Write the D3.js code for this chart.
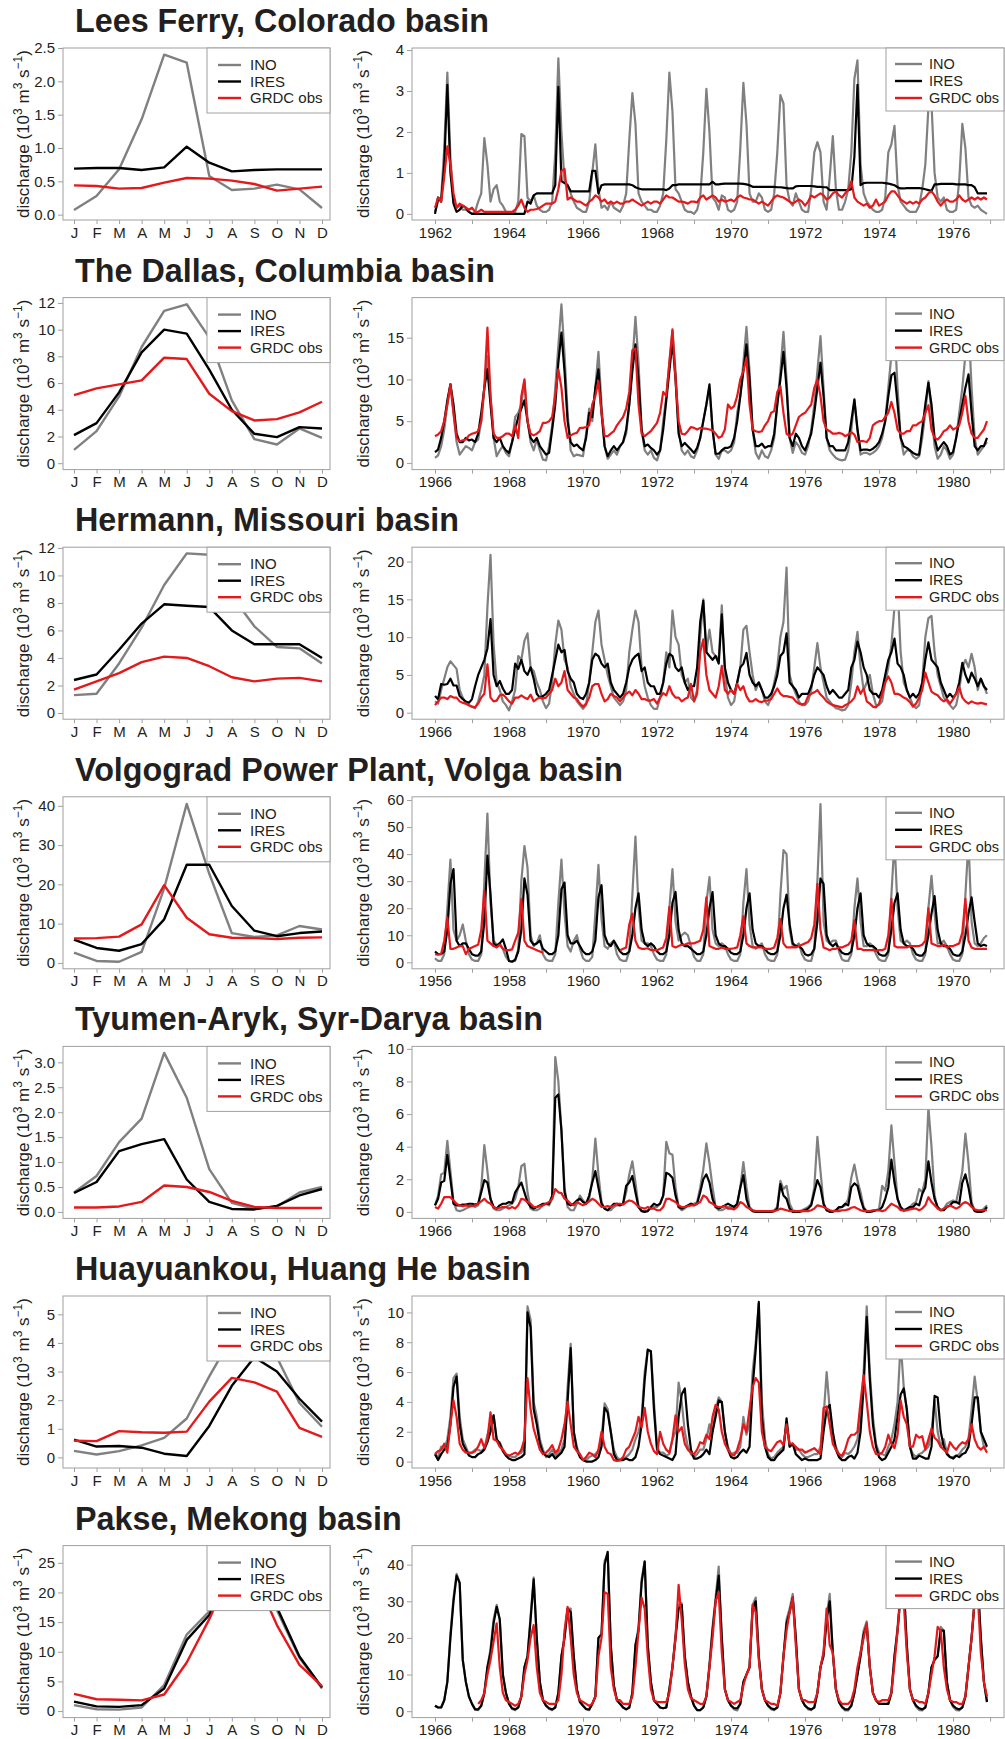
<!DOCTYPE html>
<html>
<head>
<meta charset="utf-8">
<script src="https://cdn.jsdelivr.net/npm/d3@7"></script>
<style>
  body { margin: 0; background: #fff; }
  text { font-family: "Liberation Sans", Arial, Helvetica, sans-serif; }
</style>
</head>
<body>
<svg id="fig" width="1005" height="1739"></svg>
<script>
// ---- data (10^3 m3/s) ----
const months = ["J","F","M","A","M","J","J","A","S","O","N","D"];
const seriesNames = ["INO", "IRES", "GRDC obs"];

// Lees Ferry, Colorado (1962-1976)
const leesClimINO  = [0.07,0.28,0.68,1.43,2.4,2.28,0.58,0.37,0.39,0.45,0.38,0.1];
const leesClimIRES = [0.69,0.7,0.7,0.67,0.71,1.02,0.78,0.65,0.67,0.68,0.68,0.68];
const leesClimGRDC = [0.44,0.43,0.39,0.4,0.48,0.55,0.54,0.51,0.46,0.36,0.39,0.42];
const leesINO = [
  0.05,0.3,0.4,1.6,3.45,1.4,0.3,0.15,0.2,0.1,0.1,0.05,
  0,0.05,0.3,0.5,1.85,1.2,0.3,0.6,0.7,0.3,0.2,0.05,
  0,0,0.05,0.3,1.95,1.9,0.4,0.3,0.45,0.2,0.1,0.05,
  0.05,0.1,0.3,1.5,3.8,2.0,0.8,0.7,0.5,0.3,0.15,0.1,
  0.05,0.05,0.3,1.0,1.7,0.6,0.15,0.2,0.1,0.3,0.15,0.1,
  0.05,0.2,0.5,1.8,2.95,2.2,0.5,0.3,0.2,0.1,0.1,0.05,
  0.05,0.2,0.5,1.8,3.45,2.5,0.6,0.5,0.3,0.1,0.05,0.05,
  0,0.1,0.4,1.5,3.05,2.0,0.4,0.3,0.1,0.45,0.4,0.1,
  0.05,0.1,0.3,1.6,3.2,2.2,0.5,0.3,0.3,0.5,0.4,0.1,
  0.05,0.1,0.5,1.5,2.9,2.7,0.7,0.3,0.2,0.5,0.3,0.1,
  0.05,0.05,0.6,1.5,1.75,1.5,0.3,0.1,0.9,1.9,0.6,0.1,
  0.1,0.3,0.6,1.5,3.3,3.75,1.2,0.5,0.3,0.2,0.1,0.05,
  0.05,0.1,0.4,1.5,1.7,2.15,0.7,0.3,0.2,0.1,0.05,0.05,
  0.05,0.2,0.6,1.2,2.6,2.7,1.0,0.4,0.3,0.4,0.1,0.05,
  0.05,0.1,0.8,2.2,1.6,0.4,0.2,0.15,0.2,0.1,0.05,0
];
const leesIRES = [
  0,0.4,0.3,1.2,3.15,1.0,0.25,0.05,0.1,0.2,0.15,0.05,
  0,0,0,0,0,0,0,0,0,0,0,0,
  0,0,0,0,0,0,0.3,0.25,0.45,0.5,0.5,0.5,
  0.5,0.5,0.5,0.7,3.1,0.8,0.75,0.7,0.55,0.55,0.55,0.55,
  0.55,0.55,0.55,1.05,1.05,0.5,0.7,0.72,0.72,0.72,0.72,0.72,
  0.72,0.72,0.72,0.72,0.7,0.65,0.62,0.6,0.6,0.6,0.6,0.6,
  0.6,0.6,0.6,0.58,0.62,0.7,0.7,0.72,0.72,0.72,0.72,0.72,
  0.72,0.72,0.72,0.72,0.72,0.72,0.78,0.72,0.72,0.73,0.74,0.74,
  0.74,0.74,0.74,0.74,0.73,0.72,0.7,0.66,0.66,0.66,0.66,0.66,
  0.66,0.66,0.66,0.65,0.65,0.64,0.63,0.62,0.62,0.67,0.68,0.68,
  0.68,0.68,0.68,0.67,0.66,0.66,0.65,0.65,0.58,0.58,0.58,0.58,
  0.58,0.58,0.58,0.6,1.4,3.15,0.7,0.75,0.76,0.76,0.76,0.76,
  0.76,0.76,0.75,0.74,0.72,0.7,0.65,0.62,0.62,0.63,0.63,0.63,
  0.63,0.63,0.62,0.6,0.58,0.56,0.72,0.72,0.73,0.73,0.73,0.73,
  0.73,0.72,0.72,0.72,0.72,0.7,0.7,0.65,0.5,0.5,0.5,0.5
];
const leesGRDC = [
  0.15,0.4,0.3,0.9,1.65,1.2,0.5,0.15,0.25,0.2,0.15,0.1,
  0.15,0.05,0.05,0.1,0.05,0.05,0.05,0.05,0.05,0.05,0.05,0.05,
  0.05,0.05,0.1,0.2,0.35,0.15,0.05,0.1,0.1,0.12,0.15,0.2,
  0.25,0.25,0.25,0.3,0.6,1.05,1.1,0.35,0.4,0.35,0.3,0.3,
  0.25,0.2,0.3,0.35,0.45,0.4,0.3,0.35,0.25,0.3,0.25,0.3,
  0.25,0.25,0.3,0.3,0.35,0.3,0.25,0.2,0.25,0.3,0.25,0.3,
  0.3,0.25,0.35,0.45,0.4,0.4,0.35,0.3,0.3,0.28,0.25,0.3,
  0.3,0.28,0.4,0.45,0.35,0.4,0.45,0.4,0.3,0.35,0.3,0.32,
  0.35,0.3,0.4,0.45,0.4,0.38,0.35,0.35,0.3,0.25,0.3,0.25,
  0.2,0.3,0.4,0.45,0.42,0.4,0.35,0.3,0.25,0.3,0.35,0.3,
  0.2,0.3,0.45,0.4,0.45,0.5,0.45,0.35,0.4,0.5,0.55,0.45,
  0.4,0.5,0.6,0.8,0.4,0.3,0.25,0.2,0.25,0.15,0.2,0.35,
  0.2,0.25,0.3,0.45,0.55,0.55,0.45,0.35,0.3,0.25,0.3,0.25,
  0.3,0.25,0.35,0.4,0.5,0.55,0.45,0.3,0.2,0.3,0.35,0.3,
  0.3,0.35,0.45,0.35,0.3,0.35,0.4,0.35,0.4,0.35,0.4,0.35
];

// The Dallas, Columbia (1966-1980)
const dallesClimINO  = [1.0,2.4,5.0,8.7,11.4,11.9,9.4,4.7,1.8,1.4,2.6,1.9];
const dallesClimIRES = [2.1,3.0,5.3,8.3,10.0,9.7,7.0,4.0,2.2,1.95,2.7,2.6];
const dallesClimGRDC = [5.1,5.6,5.9,6.2,7.9,7.8,5.2,3.9,3.2,3.3,3.8,4.6];
const dallesINO = [
  0.6,0.9,2,4,7,9.4,6,2.5,1,1.5,2,1.8,
  1.5,2.5,2.8,5,9,12.8,8,3,0.8,1.5,2,1.2,
  0.8,2.5,5.5,6,7,9.8,5,2.5,1.5,2.8,1.5,0.4,
  0.3,2,4.5,9,14,19,13,6,1.5,0.8,1,0.9,
  0.8,3.5,6.5,5,9,13.3,7,2,0.5,1,1.5,1,
  2,2.5,3.5,7,12,17.5,12,4,1.5,1,1.5,0.6,
  0.3,1.5,5,8,12,15.8,11,4,1.5,1,1.5,0.8,
  0.6,1.5,3,5,7,9,4,1,0.5,1.5,1.5,1.2,
  1.5,2.5,6,8,12,16.3,11,4,1.2,0.5,1.5,0.8,
  0.6,1.5,3,7,11,15.7,10,3,1.2,2.5,2,1.2,
  1,2,4,7,11,15.2,9,3,1.5,1,0.6,0.4,
  0.3,0.4,1.5,4,7.5,4,1,1.2,1.2,1,1.2,1.5,
  2,3,5,9,13,16.5,9,3,1,1.5,1.5,0.8,
  0.5,0.8,3,6,9.8,6,2,0.5,1,2,1.5,0.5,
  1,3,6,9,13,17,9,3,1,1.5,2,2.5
];
const dallesIRES = [
  1.3,1.6,3,5,7.5,9.4,7,3.5,2.5,2.5,3,2.7,
  2.8,2.5,3.5,6,9,11.2,7,3,2.5,3,2,1.5,
  1.2,2.5,4,5.5,6.5,7.5,5,3,2.5,3,2,1.5,
  1,1.2,4,7,12,15.6,11,5,2.5,2,2.2,1.8,
  1.5,3,6,5.5,9,11.2,6,2,0.8,1.5,2,1.5,
  2,2.5,4,7,11,14.2,10,4,2,2.2,1.8,1.5,
  1,1.5,4,7.5,11,14.6,10,3.5,2,2.4,2,1.6,
  1.2,1.8,3,5,7,9.4,4,1.1,1.1,1.5,1.8,1.8,
  2,3,5,8,11,14.2,10,4,2,2,2.3,1.8,
  2,2,3.5,7,10,13.3,9,3,2,3.5,3,2,
  1.5,2.5,3.5,6,9,12,8,3,2,2,1.5,1.5,
  1.5,1.5,2.5,5,7.6,4,1.5,1.6,1.6,1.5,1.7,2,
  2.5,3.5,5,8,10.5,10.8,7,3,2,1.8,1.5,1.2,
  1,1,4,7,9.6,7,3,1.5,2,2.5,2,1,
  1.3,3,5,7,9,10.6,6,2,1.5,2,2,3
];
const dallesGRDC = [
  3.2,3.4,3.8,5,7,9.4,6,3,2.6,2.7,2.8,3.3,
  3.5,3.6,3.8,5,9,16.2,8,3.5,3,3,3.2,3.5,
  3.5,3.2,4.5,3,8,10,5,3.5,3.3,3.5,3.8,4.8,
  4.8,5,5.5,8,11.2,9,5,3,3.3,3.5,3.6,4.2,
  4.2,4.3,4.5,7,8,9.8,6,3.2,3.2,3.5,3.8,4.5,
  5,5.5,6.5,8.5,13.5,13.7,7,3.5,3.2,3.5,3.8,4.3,
  4.8,6,8.5,8,12,16,10,5,3.5,3.4,3.8,4.3,
  4.2,4.0,4.2,4.1,4.1,4.0,3.9,3.5,3.0,3.2,4,7,
  6.5,6.8,8,10,11,12.6,7,4,3.8,3.7,3.8,4.5,
  5,6,6.2,8.5,9.2,6,3.5,3.2,3.5,4.5,5.5,5.8,
  6,6.5,7,9,10,8,5,4,3.8,3.5,3.5,3.6,
  3.5,3.2,3.4,3.7,3.4,2.5,2.6,2.6,2.5,3,4.5,4.8,
  5,5,5.5,6,7.3,6,4,3.5,3.5,3.8,3.8,4.5,
  4.5,4.8,5,6,6.9,4,3,2.8,3.2,3.8,4,4.5,
  4,4.2,4.5,6,8,5,3.5,3,3,3.5,4,5
];

// Hermann, Missouri (1966-1980)
const hermannClimINO  = [1.3,1.4,3.6,6.2,9.3,11.6,11.5,8.5,6.3,4.8,4.7,3.6];
const hermannClimIRES = [2.4,2.8,4.6,6.5,7.9,7.8,7.7,6.0,5.0,5.0,5.0,4.0];
const hermannClimGRDC = [1.7,2.3,2.9,3.7,4.1,4.0,3.4,2.6,2.3,2.5,2.55,2.3];
const hermannINO = [
  1.5,1.2,3,4.5,6,6.8,6.3,5.8,3,2,1.2,1,
  0.8,0.6,1.5,3,5,14,20.9,9,4,3,1.5,1,
  0.3,1.5,3,7.5,7,9.5,10.5,6,5.5,4,3,1.5,
  0.6,1.2,4,9,12.2,11,7,6,3.5,2.5,1.5,1,
  0.5,1,4,8,12,13.5,9,7,5,3.5,2,1.5,
  1,1.5,3,8,11,13.5,12,6,3.5,2,1,0.5,
  0.5,2,4,8,6,13.5,10,9,5,4,4.5,2,
  1.5,3,10,15,8,11,8,7.5,7,14.2,5,2,
  1,1.5,4,6,11,11.5,8,5,3,4,3,1.5,
  1,2,4,6,10,12,19.2,5,3.5,2.5,1.5,1,
  1,1.5,3,6,9.2,6,4,2,1.5,1,0.6,0.5,
  0.3,0.4,1,4,8,10.7,6,3,4,5,2.5,1,
  1,1.5,4,6,9,14,17,8,4,3,2,1,
  0.6,1,4,10,12.5,12.8,8,5,3.5,2,1.5,1,
  0.5,1,3,6,7,6,7.8,6,3,4.5,3.5,2.5
];
const hermannIRES = [
  2.2,1.8,3.8,3.7,3.8,4.5,3.6,3.6,2.2,1.8,1.5,1.3,
  1.8,3.5,5,6,7,8.5,12.4,5,3.5,4.2,3.2,2.5,
  2.5,3,6.5,5.8,7,5.5,5,6,4.5,2.5,2,2.2,
  2.5,3,5,7,9,8,8.3,5.5,4.5,4,2.5,2,
  1.8,2.5,4,7,7.8,7.5,6.5,6,6.5,4,3,2.5,
  2,2.5,4,6,7,7.5,7.8,5.5,6,4,3.5,3.5,
  2.5,2.5,4,6.5,7.8,7.5,6,5.5,6,4,3,3.5,
  3.5,6,12,14.8,8,7.5,7,7.5,6.5,13,6,4,
  3,2.5,4,6,6.5,7.9,5,4,3.5,4,3,2,
  2,2.5,3.5,5,7.5,8,10.5,4,3.5,3,2,2.5,
  2.5,2.5,3.5,5,6,5.5,5,3.5,2.5,3,2.5,2,
  2,2.5,3,6,7,9.4,8,6,5,3,2.5,2.5,
  2,3,5,7,8,9.8,6.5,6,5,3,2,2.5,
  2,2.5,4,7,9.3,7,6.5,6,4,3,2,2.5,
  2,2.5,4,6.6,5,4,5.3,4.5,3.5,4.5,3.5,3
];
const hermannGRDC = [
  1,1.5,2,2,1.8,2.2,2,2,1.5,1.3,1.2,1,
  0.8,0.7,1.2,2,2.5,6.4,2,1.5,1.6,2.3,2.4,2,
  1.5,1.2,2,2,2.3,2,1.8,2.4,1.5,1.8,2.0,1.9,
  2,2.5,3,4.5,3.5,4,5.5,3,2.5,2,1.8,1.2,
  0.8,1.2,2,3.5,3.8,3.8,2.5,1.5,1.8,2.5,2.2,2,
  1.5,2,2.5,2.8,2.3,3,2.5,1.8,1.8,1.6,1.6,1.8,
  1.2,2.0,2.6,2.3,3.5,2.5,2,2,1.5,1.8,2,3.8,
  1.5,2.5,8,9.7,5,3,2.5,2,3.5,6.2,3,2.5,
  3,2.5,3.8,3,3.5,2.2,1.5,1.5,1.8,1.5,1.4,1.6,
  1.6,1.8,2.5,3.2,2.5,2.2,2.2,2.1,2,1.5,1.2,1.1,
  1.2,2.2,2.5,2.7,3,2.4,2,1.5,1.2,1,0.9,0.8,
  0.7,1,1.2,1.5,2,3.5,2.5,3.2,1.5,1.2,0.8,0.7,
  1.2,2.5,4,4.8,4,2.5,2.5,2.3,2,1.8,1.4,0.8,
  1.2,2,3,5.3,4,2.8,2.5,2.3,1.8,1.5,1.8,1.2,
  1.8,2.5,3.4,2,1.5,1.2,1.5,1.3,1.2,1.3,1.2,1.1
];

// Volgograd Power Plant, Volga (1956-1970); GRDC has a gap in 1959-1960
const volgaClimINO  = [2.6,0.5,0.3,2.8,19,40.5,22.7,7.6,6.6,7.0,9.4,8.5];
const volgaClimIRES = [5.9,3.8,3.1,4.8,11.1,25,25,14.5,8.2,6.8,7.6,8.0];
const volgaClimGRDC = [6.2,6.3,6.7,9.8,19.8,11.5,7.3,6.4,6.3,6.1,6.4,6.5];
const volgaINO = [
  1.5,0.5,0.5,3,20,38,12,8,10,14,8,3,
  1,0.5,0.5,3,30,55,22,8,6.5,7,5,2,
  0.5,0.3,0.5,5,30,43,35,10,6,7,10,3,
  1,0.5,0.5,3,22,38,18,6,4,8,10,5,
  1.5,0.5,0.5,2,18,36,16,6,5,7,8,3,
  1,0.5,0.5,4,25,46.5,20,8,7,7,6,3,
  1,0.5,0.5,3,20,34.5,15,8,10,11,10,6,
  2,0.5,0.5,3,22,31.5,12,7,6,7,6,3,
  1,0.5,0.5,3,22,34.5,14,6,5,6,7,3,
  1,0.5,0.5,3,25,41.5,40,12,6,6,7,3,
  1,0.5,0.5,5,30,58.5,15,8,7,8,8,4,
  1,0.5,0.5,3,20,31,15,6,6,7,6,3,
  1,0.5,0.5,3,25,45,20,8,7,8,7,3,
  1,0.5,0.5,3,20,32,18,7,7,8,6,3,
  1,0.5,0.5,3,25,45,15,7,6,7,9,10
];
const volgaIRES = [
  4,3,3,4,12,29,34.5,8,6,7,7,5,
  3,2.5,2.5,4,15,39.5,25,7,6,7,8.5,5,
  0.5,0.2,1,4,12,31,25,8,6.5,7,8,5,
  4,3,3,4,10,27,29.5,10,7,7,8,6,
  4,3,3,4,8,24,28.5,10,7,6,8,6,
  4,3,3,4,10,20,25.5,12,7,6,7,6,
  4,3,3,4,10,22,26,12,7,6,6,5,
  4,3,3,4,10,20,26,10,7,6,6,5,
  3.5,3,3,4,10,20,25.5,12,7,6,6,5,
  3.5,3,3,4,10,20,25,14,7,6,6,5,
  3,2.5,3,5,15,31,29,10,7,6,7,5,
  3.5,3,3,4,10,20,25.5,10,7,6,6,5,
  3,2.5,2.5,4,12,22,25.5,12,7,6,6,5,
  3,2.5,2.5,4,10,18,24.5,12,7,6,6,5,
  3,2.5,2.5,4,10,18,24,15,7,6,6.5,6
];
const volgaGRDC = [
  3,2.8,3.2,8,16.5,5,5,5.5,6,6,3,5,
  5.5,6,6.5,12,26.5,8,7,6,5.5,6.5,5,4.5,
  4.5,4.8,8,11,23.5,8,6,5.5,5,4.5,4,3.5,
  null,null,null,null,null,null,null,null,null,null,null,null,
  null,null,null,null,null,null,null,null,null,null,null,null,
  4.5,5,5.5,14,18,8,5.5,5,5,5.2,4.5,4.5,
  4.5,5,5.5,9,20.5,6,5.5,6,6.5,6.5,7,7,
  7,7.5,8,12,24,6,5.5,5,5,5.5,5,5,
  5,5.2,5.5,10,17,7,6,5.5,5.5,5.5,5.5,5,
  5,5,5.5,9,16,7,5.5,5.5,5.5,5.5,6,6.5,
  7,7.5,9,14,29,12,5.5,5,4.5,5,5,5.5,
  5.5,6,6.5,8,15.5,5,5,4.5,4.5,4.5,4.5,4.2,
  4.5,4.5,5,10,23.5,6,5.5,5.5,5.5,5.5,6,6,
  6,6,6.5,8,20,7,6.5,6,6,6.5,5.5,6,
  6,6.5,7,11,23.5,8,5.5,5,5,5,5,5
];

// Tyumen-Aryk, Syr-Darya (1966-1980)
const tyumenClimINO  = [0.39,0.72,1.4,1.87,3.19,2.29,0.86,0.18,0.06,0.11,0.39,0.5];
const tyumenClimIRES = [0.38,0.6,1.22,1.36,1.46,0.65,0.2,0.06,0.05,0.12,0.33,0.46];
const tyumenClimGRDC = [0.09,0.09,0.11,0.2,0.53,0.5,0.4,0.22,0.1,0.08,0.08,0.08];
const tyumenINO = [
  0.4,1,2.3,2.4,4.35,2.5,0.6,0.1,0.05,0.1,0.2,0.3,
  0.4,0.3,0.4,1.5,4.1,2.5,0.8,0.2,0.1,0.1,0.2,0.3,
  0.4,0.5,0.8,1.5,2.8,2.95,1.2,0.2,0.1,0.1,0.2,0.4,
  0.5,0.4,0.8,9.5,8,5,1.5,0.3,0.1,0.1,0.5,1.0,
  0.7,0.5,0.8,2,4.5,2.3,0.6,0.2,0.1,0.1,0.3,0.4,
  0.4,0.5,1.2,2.3,3.1,1.8,0.3,0.05,0.05,0.1,0.2,0.3,
  0.3,0.5,1,4.3,3.6,3.5,1.5,0.3,0.1,0.2,0.4,0.5,
  0.5,0.6,1.5,2.6,4.2,3,1.5,0.3,0.1,0.1,0.2,0.3,
  0.3,0.3,0.5,1.5,3.05,1.5,0.3,0.1,0.05,0.05,0.05,0.05,
  0.05,0.05,0.1,0.3,1.9,1.4,1.6,0.5,0.1,0.05,0.05,0.1,
  0.2,0.3,0.5,1.5,4.6,2.5,0.5,0.1,0.05,0.05,0.1,0.2,
  0.3,0.4,0.8,2.1,2.9,1.9,1.2,0.3,0.05,0.05,0.05,0.1,
  0.2,1.6,1.3,2.5,5.3,3,0.8,0.2,0.05,0.1,0.3,0.5,
  0.6,1.4,1.2,2,6.4,4,1,0.2,0.1,0.2,0.5,0.6,
  0.7,0.6,1.5,2.5,4.8,3,0.6,0.1,0.05,0.05,0.2,0.4
];
const tyumenIRES = [
  0.4,0.8,1.8,1.9,3.5,2,0.5,0.4,0.4,0.45,0.45,0.5,
  0.5,0.45,0.5,1.2,1.95,1.8,0.8,0.3,0.2,0.4,0.5,0.5,
  0.6,0.55,1.2,1.5,1.8,1.2,0.6,0.3,0.2,0.3,0.4,0.5,
  0.5,0.5,1,7,7.2,5,1.2,0.5,0.4,0.5,0.7,0.8,
  0.6,0.5,1,1.8,2.5,1.5,0.5,0.2,0.1,0.3,0.5,0.5,
  0.4,0.5,1.6,1.8,2.2,1.2,0.3,0.05,0,0.05,0.3,0.5,
  0.4,0.5,1,2.4,2.3,2.1,1,0.3,0.2,0.3,0.4,0.5,
  0.4,0.5,1.2,2.0,2.3,1.8,0.8,0.3,0.2,0.3,0.4,0.5,
  0.4,0.3,0.5,1.5,2.25,0.8,0.2,0.05,0,0,0,0,
  0,0,0.05,0.2,1.7,1.0,0.8,0.2,0,0,0,0.05,
  0.1,0.2,0.4,1.2,1.95,1.5,0.5,0.1,0,0,0.1,0.3,
  0.3,0.5,0.4,1.5,1.75,1.6,0.8,0.2,0,0,0.05,0.1,
  0.1,0.3,0.8,1.5,3.2,1.8,0.8,0.3,0.1,0.2,0.3,0.3,
  0.5,0.4,1.1,1.5,3.1,1.8,0.8,0.3,0.1,0.1,0.3,0.4,
  0.6,0.6,0.5,1.8,2.3,1.5,0.4,0.05,0,0,0.05,0.3
];
const tyumenGRDC = [
  0.3,0.2,0.5,0.9,0.9,0.9,0.7,0.5,0.4,0.35,0.4,0.35,
  0.35,0.4,0.5,0.65,0.8,0.6,0.5,0.3,0.2,0.25,0.3,0.3,
  0.2,0.3,0.2,0.4,0.8,0.75,0.6,0.5,0.3,0.3,0.35,0.4,
  0.5,0.6,0.8,1.4,1.2,1.15,0.8,0.7,0.5,0.4,0.6,0.5,
  0.4,0.5,0.65,0.8,0.7,0.5,0.3,0.3,0.35,0.3,0.4,0.5,
  0.5,0.45,0.6,0.7,0.65,0.5,0.3,0.25,0.2,0.3,0.2,0.2,
  0.1,0.1,0.3,0.8,0.8,0.7,0.6,0.4,0.3,0.3,0.35,0.4,
  0.4,0.5,0.6,1.0,0.9,0.6,0.5,0.35,0.3,0.3,0.35,0.2,
  0.2,0.15,0.3,0.6,0.5,0.3,0.2,0.1,0.05,0.05,0.05,0.05,
  0.05,0.05,0.05,0.1,0.2,0.15,0.1,0.05,0.05,0.05,0.05,0.05,
  0.05,0.05,0.1,0.2,0.4,0.35,0.3,0.2,0.1,0.05,0.05,0.05,
  0.1,0.1,0.15,0.25,0.3,0.2,0.1,0.05,0.05,0.05,0.1,0.1,
  0.1,0.05,0.1,0.3,0.5,0.4,0.3,0.1,0.1,0.1,0.15,0.2,
  0.2,0.1,0.2,0.4,0.9,0.6,0.4,0.2,0.1,0.2,0.3,0.4,
  0.3,0.2,0.3,0.5,0.6,0.5,0.3,0.15,0.1,0.1,0.1,0.1
];

// Huayuankou, Huang He (1956-1970)
const huangClimINO  = [0.23,0.1,0.22,0.42,0.68,1.36,2.83,4.2,4.4,3.5,1.9,1.07];
const huangClimIRES = [0.62,0.38,0.4,0.34,0.13,0.05,1.1,2.5,3.5,3.0,2.05,1.25];
const huangClimGRDC = [0.58,0.57,0.92,0.88,0.86,0.9,1.95,2.78,2.62,2.3,1.03,0.72];
const huangINO = [
  0.5,0.3,1.0,0.8,1.5,3,5.6,5.9,3,1.5,1,0.5,
  0.6,0.8,0.8,0.7,0.9,1.8,2.5,3.1,1.4,1.3,0.8,0.5,
  0.4,0.3,0.3,0.5,0.6,1,10.4,9.5,4,3,1.5,0.8,
  0.3,0.5,0.8,0.4,0.6,0.8,1.5,5,7.9,2,1,0.4,
  0.1,0.1,0.3,0.4,0.5,0.7,1.5,3.9,3.5,2,0.8,0.3,
  0.1,0.2,0.3,0.5,0.8,1.5,2,3,6,7.5,7.4,4,
  1,0.6,0.6,0.4,0.5,1.5,2,5.3,4,2,1,0.5,
  0.3,0.5,0.8,0.8,1.5,2.5,2,3.5,4.3,4,2,1,
  0.5,0.6,0.6,1,3,1.8,2.5,6,8,10.6,4,1.5,
  0.5,0.2,0.3,0.6,0.8,1,2.5,1,1.2,0.8,0.8,0.5,
  0.3,0.3,0.4,0.5,0.5,1,3,6,3.5,1.8,1,0.5,
  0.3,0.6,0.5,0.7,1,1.5,3,6,10.4,6,3,1.2,
  0.6,0.5,0.4,1,1.5,2.5,4,8,5,3.5,1,0.5,
  0.3,0.5,0.6,0.8,1,2,4.1,2,1,1.5,0.6,0.3,
  0.3,0.4,0.5,0.8,1,1.5,3.5,5.7,4,2,1,1
];
const huangIRES = [
  0.5,0.1,0.5,0.8,1.0,2.5,5.0,5.7,2.5,1.2,0.8,0.4,
  0.3,0.3,0.5,0.6,0.8,1.3,2,3.1,1.5,1.2,0.7,0.4,
  0.2,0.1,0.1,0.2,0.3,0.5,10,9,3.5,2.5,1.2,0.6,
  0.4,0.3,0.5,0.2,0.4,0.6,1,4,7.6,2,0.8,0.3,
  0.1,0,0,0,0.1,0.3,1,3.6,3.3,2,0.5,0.1,
  0.1,0.1,0.2,0.1,0.1,0.3,1,2.5,5.5,7.5,7.4,3.5,
  0.8,0.5,0.4,0.3,0.2,0.1,0.5,3,4.5,4.9,2.5,0.8,
  0.2,0.2,0.3,0.5,0.8,0.5,2,3,4.1,4,2,0.8,
  0.3,0.2,0.3,0.6,0.8,0.6,1,5,7.5,10.7,3,1,
  0.3,0.1,0.1,0.4,0.6,0.8,2.9,1,1.2,0.5,0.3,0.1,
  0.2,0.1,0.1,0.1,0.1,0.2,2,3.5,3.8,2,0.8,0.3,
  0.1,0.1,0.3,0.4,0.2,0.6,2,5,9.7,5.5,2.5,1,
  0.3,0.1,0.2,0.6,1,1.5,3,4.5,4.9,3.5,1,0.2,
  0.2,0.4,0.3,0.2,0.2,1,4.4,4.3,2,1,0.5,0.3,
  0.2,0.4,0.3,0.5,0.6,1,2.5,4.3,4.3,2,1.5,1
];
const huangGRDC = [
  0.5,0.7,0.8,1.2,0.6,2.5,4.1,3,1.2,0.8,0.6,0.6,
  0.6,0.7,1,1.5,0.9,1.5,3.3,1.5,1.4,1,0.8,0.5,
  0.4,0.5,0.6,0.5,0.8,1.5,5.6,3.5,2.2,1.5,0.8,0.5,
  0.6,0.8,1.1,0.6,0.8,1.5,2.5,4,2.5,1,0.7,0.5,
  0.1,0.3,0.6,0.5,0.3,0.8,2,1,0.6,0.5,0.1,0.05,
  0.1,0.3,0.8,1,1.5,2,3,2.3,3.6,2,1.2,0.7,
  0.5,2,1.2,0.8,0.6,1.5,3.1,2.0,2.3,1.2,0.8,0.6,
  0.5,0.8,1.3,1.2,1.8,1.5,3,3.8,3.5,2,1.2,0.8,
  0.5,0.4,0.8,1.5,2.5,2,3.5,5,5.6,5.3,2,1,
  0.8,0.7,1,1.3,1.4,1.1,2.5,1.2,1.2,1.0,0.8,0.8,
  0.6,0.7,0.8,0.9,0.7,0.5,3.6,3.7,2.5,1.2,0.8,0.5,
  0.4,0.8,1.5,1.8,1.8,2,4,5.8,4,2,1,0.5,
  0.5,0.6,1,1.8,1.2,0.9,1.8,4.1,3,2.5,1,1,
  1.8,1.6,1.7,0.8,1.5,2.2,1.6,1.4,1.0,0.8,0.6,1.3,
  1.0,0.8,1.1,1.3,1.2,1.5,2.5,1.5,1.0,0.8,1,0.6
];

// Pakse, Mekong (1966-1980); GRDC starts in March 1967
const pakseClimINO  = [1.0,0.3,0.25,0.6,4.4,12.9,16.8,26,25.5,17,9,3.8];
const pakseClimIRES = [1.6,0.8,0.7,1.0,3.8,12.0,16.2,24,25,17.5,9.2,4.0];
const pakseClimGRDC = [2.9,2.0,1.9,1.8,2.8,8.2,15.5,24,23,14.5,7.8,4.2];
const pakseINO = [
  1.5,1,1,3,8,21,31,37.5,35,14,8,4,
  2,0.5,0.3,1.5,5,12,17,25,29,25,10,5,
  2,0.6,0.3,1,4,12,15,26,36.5,20,8,3,
  1.5,0.6,0.3,1,5,15,20,28,28,15,6,2.5,
  1.5,0.5,0.3,2,4,20,21,41,43,18,7,3,
  2,1,0.5,1,5,18,23,36,41,18,8,3,
  2,1,0.8,1,6,12,21,29,29.5,15,8,4,
  1.5,0.3,0.3,1,4,13,23,31,39.5,20,6,3,
  1.5,0.5,0.2,2,8,10,12,29,31,15,6,3,
  1.5,0.5,0.3,1,5,15,25,28,32,20,6,3,
  1.5,0.5,0.3,1,5,12,16,26,32,16,6,2.5,
  1,0.2,0.2,1.5,5,10,16,22,24.5,12,5,3,
  2,2,2,2,5,15,23,33,35,18,6,3,
  1.2,0.3,0.2,1,5,12,14,15,23,22,8,3,
  1.2,0.3,0.2,1,4,12,20,31,36,20,8,2.5
];
const pakseIRES = [
  1.5,1,1,3,8,20,30,37,35,14,8,4,
  2,0.5,0.5,1.5,5,12,16,24,28.5,25,10,5,
  2,0.8,0.5,1,4,12,15,25,36,20,8,3,
  1.5,0.8,0.5,1,5,15,20,28,27,15,6,2.5,
  1.5,0.6,0.5,2,4,20,21,40,43.5,18,7,3,
  2,1,0.5,1,5,18,22,35,40.8,18,8,3,
  2,1,0.8,1,6,12,20,28,29,15,8,4,
  1.5,0.3,0.3,1,4,12,22,30,37,20,6,3,
  1.5,0.8,0.8,2,8,10,12,28,30,15,6,3,
  1.5,0.8,0.5,1,5,15,24,27,31,20,6,3,
  1.5,0.8,0.5,1,5,12,15,25,30,16,6,2.5,
  1.2,0.5,0.5,1.5,5,10,15,21,23.5,12,5,3,
  2,2,2,2,5,15,22,32,34,18,6,3,
  1.5,0.8,0.5,1,5,12,14,15,22,22,8,3,
  1.5,0.8,0.5,1,4,12,20,30,35,20,8,2.5
];
const pakseGRDC = [
  null,null,null,null,null,null,null,null,null,null,null,null,
  null,null,2,3,5,10,14,19,24,12,5,3,
  2.5,2,1.5,2,4,10,14,20,23.5,12,5,3,
  2.5,2,2,2,3,10,22,28.5,20,10,5,3,
  2.5,2,1.5,2,4,15,20,32.5,32,12,6,3,
  3,2,2,2,4,12,22,31,28,15,6,3,
  2.5,2.5,2.5,2.5,5,12,20,34.5,25,13,6,3.5,
  3,2.5,2,2,4,12,20,30,32.5,16,6,3,
  2.5,2,2.5,3,7,10,12,29,27,14,6,3,
  2.5,2,2,1.5,5,15,22,27,31,18,6,3,
  3,2.5,2.5,2.5,5,12,16,28,18,16,6,3,
  2,2,2,3,6,12,16,20,24,12,5,3,
  2.5,3,3,3,5,13,22,32,30,16,6,3,
  3,2.5,2.5,2,5,10,15,23,22,12,6,3,
  2.5,2.5,2,2,4,12,20,30,32,16,8,4
];

// axis tick values per panel
const leesClimTicks = [0, 0.5, 1, 1.5, 2, 2.5],   leesTicks = [0, 1, 2, 3, 4];
const dallesClimTicks = [0, 2, 4, 6, 8, 10, 12],  dallesTicks = [0, 5, 10, 15];
const hermannClimTicks = [0, 2, 4, 6, 8, 10, 12], hermannTicks = [0, 5, 10, 15, 20];
const volgaClimTicks = [0, 10, 20, 30, 40],       volgaTicks = [0, 10, 20, 30, 40, 50, 60];
const tyumenClimTicks = [0, 0.5, 1, 1.5, 2, 2.5, 3], tyumenTicks = [0, 2, 4, 6, 8, 10];
const huangClimTicks = [0, 1, 2, 3, 4, 5],        huangTicks = [0, 2, 4, 6, 8, 10];
const pakseClimTicks = [0, 5, 10, 15, 20, 25],    pakseTicks = [0, 10, 20, 30, 40];

const stations = [
  { title: "Lees Ferry, Colorado basin", start: 1962,
    clim: [leesClimINO, leesClimIRES, leesClimGRDC], ts: [leesINO, leesIRES, leesGRDC],
    yl: [-0.08, 2.5], ylTicks: leesClimTicks, ylFmt: d3.format(".1f"),
    yr: [-0.15, 4.05], yrTicks: leesTicks },
  { title: "The Dallas, Columbia basin", start: 1966,
    clim: [dallesClimINO, dallesClimIRES, dallesClimGRDC], ts: [dallesINO, dallesIRES, dallesGRDC],
    yl: [-0.48, 12.4], ylTicks: dallesClimTicks, ylFmt: d3.format("d"),
    yr: [-0.8, 19.8], yrTicks: dallesTicks },
  { title: "Hermann, Missouri basin", start: 1966,
    clim: [hermannClimINO, hermannClimIRES, hermannClimGRDC], ts: [hermannINO, hermannIRES, hermannGRDC],
    yl: [-0.45, 12.05], ylTicks: hermannClimTicks, ylFmt: d3.format("d"),
    yr: [-0.86, 21.9], yrTicks: hermannTicks },
  { title: "Volgograd Power Plant, Volga basin", start: 1956,
    clim: [volgaClimINO, volgaClimIRES, volgaClimGRDC], ts: [volgaINO, volgaIRES, volgaGRDC],
    yl: [-1.5, 42.3], ylTicks: volgaClimTicks, ylFmt: d3.format("d"),
    yr: [-2.4, 61.2], yrTicks: volgaTicks },
  { title: "Tyumen-Aryk, Syr-Darya basin", start: 1966,
    clim: [tyumenClimINO, tyumenClimIRES, tyumenClimGRDC], ts: [tyumenINO, tyumenIRES, tyumenGRDC],
    yl: [-0.13, 3.32], ylTicks: tyumenClimTicks, ylFmt: d3.format(".1f"),
    yr: [-0.4, 10.15], yrTicks: tyumenTicks },
  { title: "Huayuankou, Huang He basin", start: 1956,
    clim: [huangClimINO, huangClimIRES, huangClimGRDC], ts: [huangINO, huangIRES, huangGRDC],
    yl: [-0.37, 5.64], ylTicks: huangClimTicks, ylFmt: d3.format("d"),
    yr: [-0.43, 11.1], yrTicks: huangTicks },
  { title: "Pakse, Mekong basin", start: 1966,
    clim: [pakseClimINO, pakseClimIRES, pakseClimGRDC], ts: [pakseINO, pakseIRES, pakseGRDC],
    yl: [-1.1, 27.9], ylTicks: pakseClimTicks, ylFmt: d3.format("d"),
    yr: [-1.75, 45.2], yrTicks: pakseTicks }
];

// ---- layout ----
const rowH = 249.6;
const fTop = 48, fBot = 220;
const colors = ["#808080", "#000000", "#e3191c"];
const frameColor = "#a0a0a0";
const textColor = "#231f20";

const svg = d3.select("#fig");

function yLabel(g, x) {
  const t = g.append("text")
    .attr("transform", `translate(${x},${(fTop + fBot) / 2}) rotate(-90)`)
    .attr("text-anchor", "middle")
    .attr("font-size", 17)
    .attr("fill", textColor);
  t.append("tspan").text("discharge (10");
  t.append("tspan").attr("dy", -7).attr("font-size", 12).text("3");
  t.append("tspan").attr("dy", 7).text(" m");
  t.append("tspan").attr("dy", -7).attr("font-size", 12).text("3");
  t.append("tspan").attr("dy", 7).text(" s");
  t.append("tspan").attr("dy", -7).attr("font-size", 12).text("\u22121");
  t.append("tspan").attr("dy", 7).text(")");
}

function legend(g, box, lineX0, lineX1, textX, rowsY, fs) {
  g.append("rect")
    .attr("x", box[0]).attr("y", fTop)
    .attr("width", box[1] - box[0]).attr("height", box[2] - fTop)
    .attr("fill", "#fff").attr("stroke", frameColor).attr("stroke-width", 1);
  seriesNames.forEach((name, i) => {
    g.append("line")
      .attr("x1", lineX0).attr("x2", lineX1)
      .attr("y1", rowsY[i]).attr("y2", rowsY[i])
      .attr("stroke", colors[i]).attr("stroke-width", 2.4);
    g.append("text")
      .attr("x", textX).attr("y", rowsY[i])
      .attr("dy", "0.35em")
      .attr("font-size", fs)
      .attr("fill", textColor)
      .text(name);
  });
}

function styleAxis(a) {
  a.select(".domain").remove();
  a.selectAll(".tick line").attr("stroke", frameColor);
  a.selectAll(".tick text").attr("fill", textColor).attr("font-size", 15)
    .attr("font-family", '"Liberation Sans", Arial, sans-serif');
}

stations.forEach((st, r) => {
  const g = svg.append("g").attr("transform", `translate(0,${r * rowH})`);

  g.append("text")
    .attr("x", 75).attr("y", 32)
    .attr("font-size", 32.3).attr("font-weight", "bold")
    .attr("fill", textColor)
    .text(st.title);

  // ----- left: mean monthly cycle -----
  const xl = d3.scaleLinear().domain([0, 11]).range([74, 322]);
  const yl = d3.scaleLinear().domain(st.yl).range([fBot, fTop]);

  g.append("rect").attr("x", 63).attr("y", fTop).attr("width", 330 - 63).attr("height", fBot - fTop)
    .attr("fill", "none").attr("stroke", frameColor);

  const lineL = d3.line().x((d, i) => xl(i)).y(d => yl(d));
  st.clim.forEach((s, k) => {
    g.append("path").datum(s).attr("d", lineL)
      .attr("fill", "none").attr("stroke", colors[k]).attr("stroke-width", 2.4)
      .attr("stroke-linejoin", "round");
  });
  legend(g, [207, 330, 113], 218, 241, 250, [65, 81.5, 98], 15);

  const axL = g.append("g").attr("transform", `translate(63,0)`)
    .call(d3.axisLeft(yl).tickValues(st.ylTicks).tickFormat(st.ylFmt).tickSize(5).tickPadding(3));
  styleAxis(axL);
  const axLB = g.append("g").attr("transform", `translate(0,${fBot})`)
    .call(d3.axisBottom(xl).tickValues(d3.range(12)).tickFormat(i => months[i]).tickSize(4).tickPadding(3));
  styleAxis(axLB);
  yLabel(g, 29);

  // ----- right: monthly time series -----
  const xr = d3.scaleLinear().domain([st.start, st.start + 179 / 12]).range([435, 987]);
  const yr = d3.scaleLinear().domain(st.yr).range([fBot, fTop]);

  g.append("rect").attr("x", 412).attr("y", fTop).attr("width", 1004 - 412).attr("height", fBot - fTop)
    .attr("fill", "none").attr("stroke", frameColor);

  const lineR = d3.line()
    .defined(d => d != null)
    .x((d, i) => xr(st.start + i / 12))
    .y(d => yr(d));
  st.ts.forEach((s, k) => {
    g.append("path").datum(s).attr("d", lineR)
      .attr("fill", "none").attr("stroke", colors[k]).attr("stroke-width", 2.2)
      .attr("stroke-linejoin", "round");
  });
  legend(g, [886, 1004, 111], 895, 922, 929, [64, 81, 98], 14.5);

  const axR = g.append("g").attr("transform", `translate(412,0)`)
    .call(d3.axisLeft(yr).tickValues(st.yrTicks).tickFormat(d3.format("d")).tickSize(5).tickPadding(3));
  styleAxis(axR);
  const axRB = g.append("g").attr("transform", `translate(0,${fBot})`)
    .call(d3.axisBottom(xr).tickValues(d3.range(st.start, st.start + 16))
      .tickFormat(y => (y - st.start) % 2 === 0 && y < st.start + 15 ? String(y) : "")
      .tickSize(4).tickPadding(3));
  styleAxis(axRB);
  yLabel(g, 369);
});
</script>
</body>
</html>
